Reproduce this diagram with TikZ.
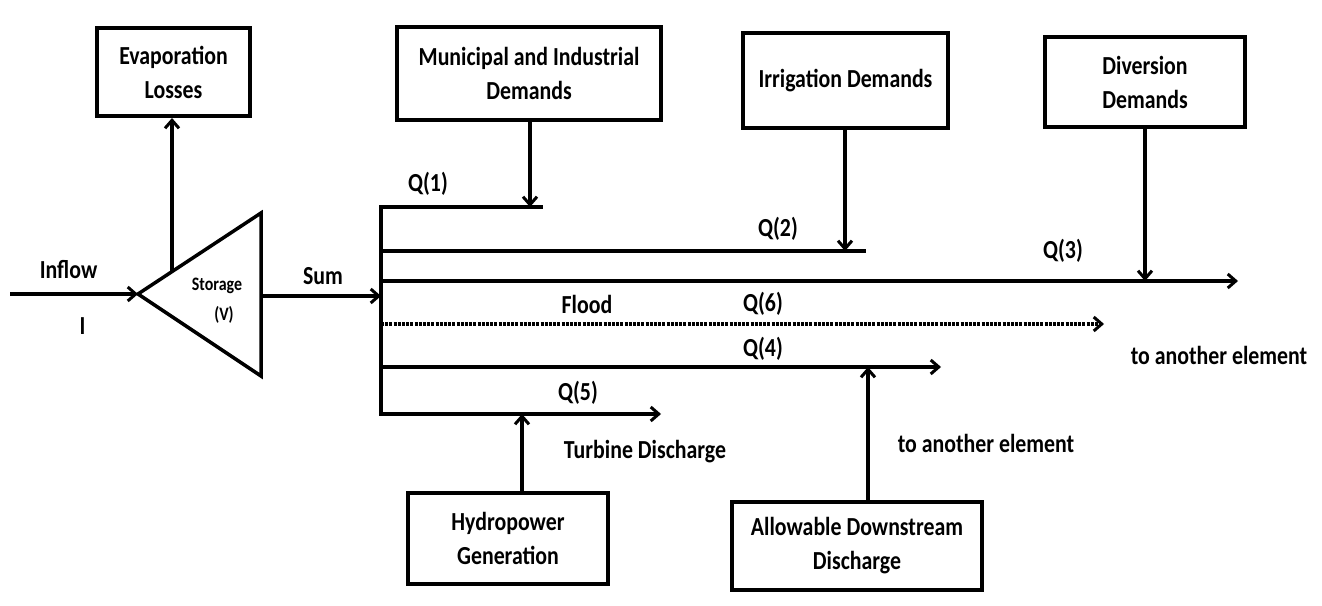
\documentclass[tikz,border=0pt]{standalone}
\usepackage{fontspec}
\setmainfont[FakeStretch=0.84]{Carlito}
\usetikzlibrary{arrows.meta}
\begin{document}
\begin{tikzpicture}[x=1pt,y=-1pt,
  every node/.style={font=\bfseries\fontsize{26}{34}\selectfont, inner sep=0pt},
  box/.style={draw, line width=4pt, align=center},
  flow/.style={line width=3.5pt},
  arr/.style={flow, -{Straight Barb[length=8pt,width=14pt,line width=3pt]}},
  small/.style={font=\bfseries\fontsize{19}{22}\selectfont}
]
\useasboundingbox (0,0) rectangle (1322,605);
% boxes
\node[box, minimum width=153pt, minimum height=88pt] (evap) at (173.5,72) {Evaporation\\Losses};
\node[box, minimum width=264pt, minimum height=93pt] (mun) at (529,73.5) {Municipal and Industrial\\Demands};
\node[box, minimum width=205pt, minimum height=95pt] (irr) at (845.5,80.5) {Irrigation Demands};
\node[box, minimum width=200pt, minimum height=90pt] (div) at (1145,82) {Diversion\\Demands};
\node[box, minimum width=200pt, minimum height=91pt] (hyd) at (508,538.5) {Hydropower\\Generation};
\node[box, minimum width=250pt, minimum height=88pt] (all) at (857,546) {Allowable Downstream\\Discharge};
% storage triangle
\coordinate (apex) at (138,294);
\coordinate (tr) at (261,213);
\coordinate (br) at (261,376);
\draw[line width=3.5pt, line join=miter] (apex) -- (tr) -- (br) -- cycle;
\node[small] (stor) at (217,286) {Storage};
\node[small] (vv) at (224,315) {(V)};
% inflow
\coordinate (in0) at (10,294);
\draw[arr] (in0) -- (apex);
\node (inflow) at (68.5,270) {Inflow};
\node (iI) at (82.5,326) {I};
% evaporation
\coordinate (ev0) at (172,272);
\draw[arr] (ev0) -- (evap.south -| ev0);
% sum
\coordinate (s0) at (261,296);
\coordinate (bar) at (381,296);
\draw[arr] (s0) -- (bar);
\node (sum) at (323,276) {Sum};
% vertical bar
\coordinate (btop) at (381,207);
\coordinate (bbot) at (381,414);
\draw[flow, line cap=rect] (btop) -- (bbot);
% branch lines
\coordinate (q1e) at (543,207);
\draw[flow] (btop) -- (q1e);
\coordinate (q2s) at (381,251);
\coordinate (q2e) at (866,251);
\draw[flow] (q2s) -- (q2e);
\coordinate (q3s) at (381,281);
\coordinate (q3e) at (1238,281);
\draw[arr] (q3s) -- (q3e);
\coordinate (q6s) at (381,324);
\coordinate (q6e) at (1104,324);
\draw[arr, dash pattern=on 3pt off 1.2pt] (q6s) -- (q6e);
\coordinate (q4s) at (381,367);
\coordinate (q4e) at (941,367);
\draw[arr] (q4s) -- (q4e);
\coordinate (q5e) at (661,414);
\draw[arr] (bbot) -- (q5e);
% demand arrows
\coordinate (m1) at (530,207);
\draw[arr] (mun.south -| m1) -- (m1);
\coordinate (i1) at (845,251);
\draw[arr] (irr.south -| i1) -- (i1);
\coordinate (d1) at (1145,281);
\draw[arr] (div.south -| d1) -- (d1);
\coordinate (h1) at (522,414);
\draw[arr] (hyd.north -| h1) -- (h1);
\coordinate (a1) at (868,367);
\draw[arr] (all.north -| a1) -- (a1);
% labels
\node (Q1) at (428,184) {Q(1)};
\node (Q2) at (778,229) {Q(2)};
\node (Q3) at (1063,251) {Q(3)};
\node (flood) at (587,304) {Flood};
\node (Q6) at (763,304) {Q(6)};
\node (Q4) at (763,349) {Q(4)};
\node (Q5) at (578,393) {Q(5)};
\node (turb) at (645,452) {Turbine Discharge};
\node (ta1) at (1219,355) {to another element};
\node (ta2) at (986,443) {to another element};
\end{tikzpicture}
\end{document}
